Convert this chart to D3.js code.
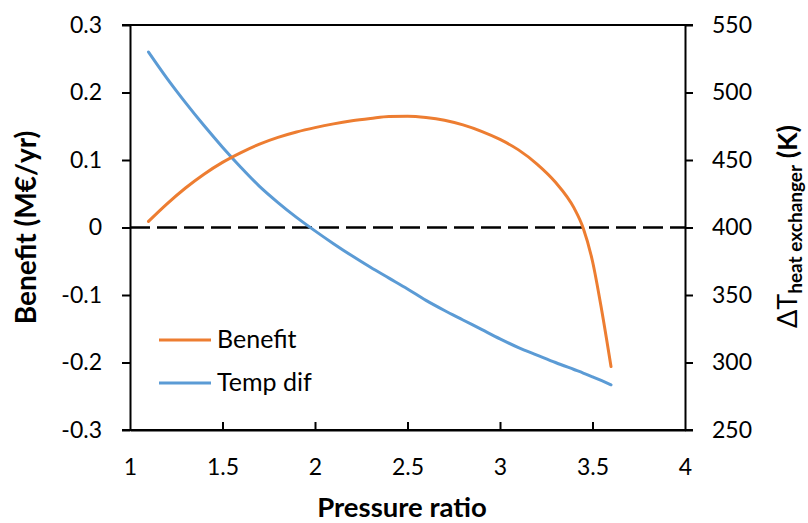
<!DOCTYPE html>
<html>
<head>
<meta charset="utf-8">
<script src="https://cdn.jsdelivr.net/npm/d3@7"></script>
<style>
  html, body { margin: 0; padding: 0; background: #fff; }
  svg { display: block; }
  text { font-family: Lato, "Open Sans", sans-serif; fill: #000; }
</style>
</head>
<body>
<svg id="chart" width="808" height="523"></svg>
<script>
// ---- Data ----
const pressureRatio = [1.1, 1.2, 1.3, 1.4, 1.5, 1.6, 1.7, 1.8, 1.9, 2.0, 2.1, 2.2, 2.3, 2.4, 2.5,
                       2.6, 2.7, 2.8, 2.9, 3.0, 3.1, 3.2, 3.3, 3.4, 3.45, 3.5, 3.55, 3.6];
const benefit = [0.009, 0.035, 0.0585, 0.079, 0.0965, 0.111, 0.1235, 0.1335, 0.1415, 0.148, 0.1535, 0.158,
                 0.1615, 0.1645, 0.1648, 0.163, 0.159, 0.152, 0.1425, 0.1305, 0.115, 0.094, 0.067, 0.029,
                 -0.001, -0.050, -0.123, -0.206];
const tempDif = [530, 510.5, 492.5, 475.5, 459.5, 444.5, 430.5, 418.5, 407.5, 397.5, 388, 379, 370.5, 362.5, 354.5,
                 346, 338.5, 331.5, 324.5, 317.5, 311, 305.5, 300, 294.8, 292.2, 289.4, 286.5, 283.5];
const xTicks = [1, 1.5, 2, 2.5, 3, 3.5, 4];
const yLeftTicks = [-0.3, -0.2, -0.1, 0, 0.1, 0.2, 0.3];
const yRightTicks = [250, 300, 350, 400, 450, 500, 550];
const seriesNames = ["Benefit", "Temp dif"];
const colors = ["#ED7D31", "#5B9BD5"];

const svg = d3.select("#chart");
const pL = 130, pR = 685, pT = 25, pB = 430;

const x = d3.scaleLinear().domain([1, 4]).range([pL, pR]);
const yL = d3.scaleLinear().domain([-0.3, 0.3]).range([pB, pT]);
const yR = d3.scaleLinear().domain([250, 550]).range([pB, pT]);

const tickFont = 23;

// Left axis
const gL = svg.append("g").attr("transform", `translate(${pL},0)`)
  .call(d3.axisLeft(yL).tickValues(yLeftTicks).tickSize(8).tickSizeOuter(0)
        .tickFormat(d => String(+d.toFixed(1))));
// Right axis
const gR = svg.append("g").attr("transform", `translate(${pR},0)`)
  .call(d3.axisRight(yR).tickValues(yRightTicks).tickSize(8).tickSizeOuter(0));
// Bottom axis (ticks inward)
const gB = svg.append("g").attr("transform", `translate(0,${pB})`)
  .call(d3.axisBottom(x).tickValues(xTicks).tickSize(-8).tickSizeOuter(0)
        .tickFormat(d => String(d)));

[gL, gR, gB].forEach(g => {
  g.select(".domain").attr("stroke", "#000").attr("stroke-width", 2);
  g.selectAll(".tick line").attr("stroke", "#000").attr("stroke-width", 2);
  g.selectAll(".tick text").attr("font-size", tickFont).attr("font-family", "Lato, sans-serif").attr("fill", "#000");
});
gL.selectAll(".tick text").attr("x", -28);
gR.selectAll(".tick text").attr("x", 27);
gB.selectAll(".tick text").attr("y", 0).attr("dy", 0).attr("transform", "translate(0,45)");
gB.selectAll(".tick").filter(d => d === 1 || d === 4).select("line").remove();

// Extend bottom and top frame lines
svg.append("line").attr("x1", pL - 8).attr("x2", pR + 8).attr("y1", pB).attr("y2", pB)
  .attr("stroke", "#000").attr("stroke-width", 2);
svg.append("line").attr("x1", pL - 8).attr("x2", pR + 8).attr("y1", pT).attr("y2", pT)
  .attr("stroke", "#000").attr("stroke-width", 2);

// Dashed zero line
svg.append("line").attr("x1", x(1)).attr("x2", x(4)).attr("y1", yL(0)).attr("y2", yL(0))
  .attr("stroke", "#000").attr("stroke-width", 2.5).attr("stroke-dasharray", "20,7");

// Lines
const pts = pressureRatio.map((p, i) => ({ p, b: benefit[i], t: tempDif[i] }));
const lineB = d3.line().x(d => x(d.p)).y(d => yL(d.b)).curve(d3.curveMonotoneX);
const lineT = d3.line().x(d => x(d.p)).y(d => yR(d.t)).curve(d3.curveMonotoneX);
svg.append("path").datum(pts).attr("d", lineT).attr("fill", "none")
  .attr("stroke", colors[1]).attr("stroke-width", 3).attr("stroke-linecap", "round");
svg.append("path").datum(pts).attr("d", lineB).attr("fill", "none")
  .attr("stroke", colors[0]).attr("stroke-width", 3).attr("stroke-linecap", "round");

// Legend
const legY = [340, 383];
seriesNames.forEach((name, i) => {
  svg.append("line").attr("x1", 159).attr("x2", 211).attr("y1", legY[i]).attr("y2", legY[i])
    .attr("stroke", colors[i]).attr("stroke-width", 3);
  svg.append("text").attr("x", 217).attr("y", legY[i] + 8).attr("font-size", 25).text(name);
});

// Axis titles
svg.append("text").attr("transform", `translate(36,${(pT + pB) / 2}) rotate(-90)`)
  .attr("text-anchor", "middle").attr("font-weight", "bold").attr("font-size", 28)
  .text("Benefit (M€/yr)");

const rt = svg.append("text").attr("transform", `translate(797,${(pT + pB) / 2 - 1}) rotate(-90)`)
  .attr("text-anchor", "middle").attr("font-weight", "bold").attr("font-size", 27);
rt.append("tspan").attr("font-weight", "normal").text("ΔT");
rt.append("tspan").attr("font-size", 19).attr("dy", 5).text("heat exchanger");
rt.append("tspan").attr("dy", -5).text(" (K)");

svg.append("text").attr("x", 402).attr("y", 517).attr("text-anchor", "middle")
  .attr("font-weight", "bold").attr("font-size", 27.5).text("Pressure ratio");
</script>
</body>
</html>
